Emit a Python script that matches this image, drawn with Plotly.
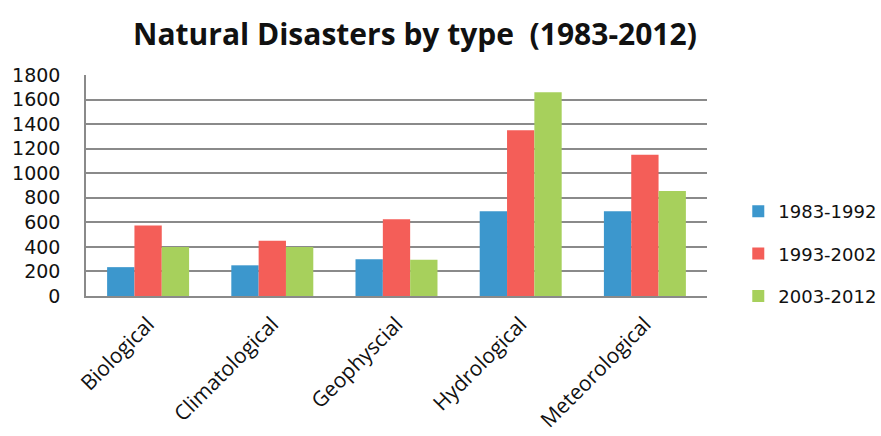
import plotly.graph_objects as go

categories = ["Biological", "Climatological", "Geophyscial", "Hydrological", "Meteorological"]
series_names = ["1983-1992", "1993-2002", "2003-2012"]
values_1983_1992 = [235, 250, 300, 690, 690]
values_1993_2002 = [575, 450, 625, 1350, 1150]
values_2003_2012 = [400, 400, 295, 1660, 855]
y_ticks = [0, 200, 400, 600, 800, 1000, 1200, 1400, 1600, 1800]

colors = ["#3C97CD", "#F45E58", "#A7D05C"]
series_values = [values_1983_1992, values_1993_2002, values_2003_2012]

fig = go.Figure()
for name, vals, col in zip(series_names, series_values, colors):
    fig.add_trace(go.Bar(
        x=categories, y=vals, name=name, legendgroup=name,
        marker=dict(color=col, line=dict(width=0)),
    ))

fig.update_layout(
    width=881, height=436,
    margin=dict(l=86, r=174, t=75, b=140, autoexpand=False),
    paper_bgcolor="white", plot_bgcolor="white",
    barmode="group", bargap=0.34, bargroupgap=0,
    title=dict(
        text="<b>Natural Disasters by type  (1983-2012)</b>",
        x=0.471, xanchor="center", y=0.92, yanchor="middle",
        font=dict(family="Open Sans", size=30, color="#111111"),
    ),
    legend=dict(
        xref="container", x=0.838, xanchor="left",
        y=0.19, yanchor="middle",
        font=dict(family="DejaVu Sans", size=18, color="#111111"),
        tracegroupgap=16, itemwidth=30,
    ),
    showlegend=True,
)

fig.update_xaxes(
    tickangle=-45,
    tickfont=dict(family="Open Sans", size=21, color="#111111"),
    showline=True, linecolor="#8a8a8a", linewidth=1.5,
    showgrid=False, ticks="", ticklabelstandoff=6,
)
fig.update_yaxes(
    range=[0, 1800], tickvals=y_ticks,
    tickfont=dict(family="DejaVu Sans", size=19, color="#111111"),
    showgrid=True, gridcolor="#8a8a8a", gridwidth=1.5,
    showline=True, linecolor="#8a8a8a", linewidth=1.5,
    ticks="", zeroline=False, ticklabelstandoff=20,
)

fig.write_html("out.html")
